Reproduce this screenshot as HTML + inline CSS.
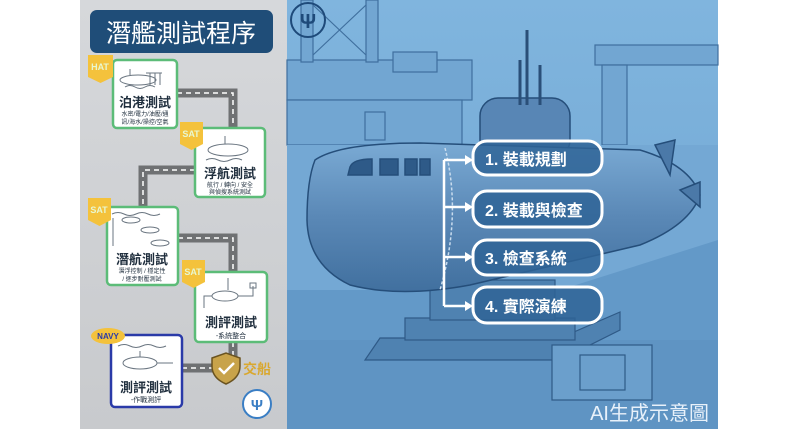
<!DOCTYPE html>
<html><head><meta charset="utf-8"><style>
html,body{margin:0;padding:0;background:#fff;}
svg{display:block;}
text{font-family:"Liberation Sans","Noto Sans CJK TC",sans-serif;}
</style></head><body>
<svg width="800" height="429" viewBox="0 0 800 429" xmlns="http://www.w3.org/2000/svg">
<defs>
<linearGradient id="lp" x1="0" y1="0" x2="0" y2="1"><stop offset="0" stop-color="#d6d8db"/><stop offset="1" stop-color="#c8cacd"/></linearGradient>
<linearGradient id="sky" x1="0" y1="0" x2="0" y2="1"><stop offset="0" stop-color="#80b5de"/><stop offset="1" stop-color="#6ea3d0"/></linearGradient>
<linearGradient id="hull" x1="0" y1="0" x2="0" y2="1"><stop offset="0" stop-color="#7aaad4"/><stop offset="0.5" stop-color="#5a88b6"/><stop offset="1" stop-color="#41709f"/></linearGradient>
</defs>
<rect width="800" height="429" fill="#fff"/>
<!-- left panel -->
<rect x="80" y="0" width="207" height="429" fill="url(#lp)"/>
<rect x="90" y="10" width="183" height="43" rx="7" fill="#1f4d78"/>
<text x="181" y="42" font-size="25" fill="#fff" text-anchor="middle">潛艦測試程序</text>
<g fill="none" stroke="#6f7173" stroke-width="9">
<path d="M177 93 H233 V128"/>
<path d="M195 170 H143 V207"/>
<path d="M178 238 H233 V272"/>
<path d="M233 342 V368 H182"/>
</g>
<g fill="none" stroke="#fff" stroke-width="1.5" stroke-dasharray="5 4">
<path d="M177 93 H233 V128"/>
<path d="M195 170 H143 V207"/>
<path d="M178 238 H233 V272"/>
<path d="M233 342 V368 H182"/>
</g>
<g fill="#fff" stroke="#5cbc78" stroke-width="2.5">
<rect x="113" y="60" width="64" height="68" rx="4"/>
<rect x="195" y="128" width="70" height="69" rx="4"/>
<rect x="107" y="207" width="71" height="78" rx="4"/>
<rect x="195" y="272" width="72" height="70" rx="4"/>
</g>
<rect x="111" y="335" width="71" height="72" rx="4" fill="#fff" stroke="#2a3aa8" stroke-width="2.5"/>
<g fill="none" stroke="#6a7580" stroke-width="1">
<ellipse cx="138" cy="80" rx="18" ry="5"/><path d="M150 73 v12 M155 73 v12 M160 73 v12 M146 73 h16 M130 75 v-6 M125 87 q5 -3 10 0 q5 3 10 0 q5-3 10 0"/>
<ellipse cx="228" cy="150" rx="20" ry="6"/><path d="M225 144 v-8 M206 160 q6-3 12 0 q6 3 12 0 q6-3 12 0"/>
<path d="M112 214 q6-3 12 0 q6 3 12 0 q6-3 12 0 q6 3 12 0 M113 218 v28"/>
<ellipse cx="131" cy="220" rx="9" ry="3"/><ellipse cx="150" cy="230" rx="9" ry="3"/><ellipse cx="160" cy="243" rx="9" ry="3"/>
<ellipse cx="225" cy="296" rx="13" ry="5"/><path d="M228 290 v-12 M238 296 h15 v-10 M212 296 h-8 v12"/><rect x="250" y="283" width="6" height="5"/>
<ellipse cx="140" cy="363" rx="17" ry="6"/><path d="M118 346 q6-3 12 0 q6 3 12 0 q6-3 12 0 q6 3 12 0 M140 357 v-6 M157 363 h16"/>
</g>
<g text-anchor="middle" fill="#1f2e3d">
<text x="145" y="107" font-size="13" font-weight="bold">泊港測試</text>
<text x="145" y="116" font-size="6">水密/電力/油壓/通</text>
<text x="145" y="124" font-size="6">訊/海水/操控/空氣</text>
<text x="230" y="178" font-size="13" font-weight="bold">浮航測試</text>
<text x="230" y="187" font-size="6">航行 / 轉向 / 安全</text>
<text x="230" y="194" font-size="6">與偵搜系統測試</text>
<text x="142" y="264" font-size="13" font-weight="bold">潛航測試</text>
<text x="142" y="273" font-size="6">潛浮控制 / 穩定性</text>
<text x="142" y="281" font-size="6">/ 逐步耐壓測試</text>
<text x="231" y="327" font-size="13" font-weight="bold">測評測試</text>
<text x="231" y="338" font-size="7">-系統整合</text>
<text x="146" y="392" font-size="13" font-weight="bold">測評測試</text>
<text x="146" y="402" font-size="7">-作戰測評</text>
</g>
<g fill="#f4c23c">
<path d="M88 55 h25 v22 l-12.5 6 l-12.5 -6z"/>
<path d="M180 122 h23 v22 l-11.5 6 l-11.5 -6z"/>
<path d="M88 198 h23 v22 l-11.5 6 l-11.5 -6z"/>
<path d="M182 260 h23 v22 l-11.5 6 l-11.5 -6z"/>
<ellipse cx="108" cy="336" rx="17" ry="8"/>
</g>
<g font-size="9" font-weight="bold" fill="#e8f7d0" text-anchor="middle">
<text x="100" y="70">HAT</text><text x="191" y="137">SAT</text><text x="99" y="213">SAT</text><text x="193" y="275">SAT</text>
</g>
<text x="108" y="339" font-size="8" font-weight="bold" fill="#2a3aa8" text-anchor="middle">NAVY</text>
<path d="M212 358 l14 -5 l14 5 v8 q0 12 -14 18 q-14 -6 -14 -18z" fill="#c8a34a" stroke="#6a5320" stroke-width="1.5"/>
<path d="M219 368 l5 5 l10 -10" fill="none" stroke="#fff" stroke-width="2.5"/>
<text x="243" y="374" font-size="14" font-weight="bold" fill="#d9a830">交船</text>
<circle cx="257" cy="404" r="14" fill="#fff" stroke="#3a7ec4" stroke-width="2"/>
<text x="257" y="410" font-size="15" fill="#3a7ec4" text-anchor="middle" font-weight="bold">Ψ</text>
<!-- right panel -->
<rect x="287" y="0" width="431" height="429" fill="url(#sky)"/>
<g fill="#72a6d2" stroke="#3f6f9e" stroke-width="1.2">
<rect x="287" y="60" width="185" height="40"/>
<rect x="287" y="100" width="175" height="45"/>
<rect x="301" y="0" width="12" height="62"/><rect x="366" y="0" width="12" height="62"/>
<path d="M313 5 L366 55 M366 5 L313 55" fill="none"/>
<rect x="393" y="52" width="44" height="20"/>
<rect x="365" y="112" width="20" height="28"/>
<rect x="595" y="45" width="123" height="20"/><rect x="602" y="65" width="25" height="80"/>
</g>
<path d="M287 145 H718 V250 L560 300 H287Z" fill="#74a8d4"/>
<path d="M287 290 L560 290 L718 240 L718 429 L287 429 Z" fill="#6399c8"/>
<rect x="287" y="340" width="431" height="89" fill="#5f94c3"/>
<g fill="#4f82b1" stroke="#2f5a87" stroke-width="1.2">
<path d="M365 360 L560 360 L620 330 L620 312 L560 338 L380 338 Z"/>
<rect x="405" y="318" width="170" height="22"/>
<rect x="430" y="280" width="125" height="40"/>
</g>
<g stroke="#254e7a" stroke-width="1.5">
<rect x="480" y="98" width="90" height="60" rx="18" fill="#5886b5"/>
<path d="M527 30 v75 M520 60 v45 M540 65 v40" stroke="#2a4f78" stroke-width="3"/>
<path d="M315 160 Q340 143 420 143 L640 150 Q690 165 700 195 Q690 225 640 245 L470 285 Q400 298 350 285 Q308 265 307 220 Q307 180 315 160 Z" fill="url(#hull)"/>
<path d="M655 145 l20 -5 l-5 35z M680 190 l20 -8 v25z" fill="#4b79a8"/>
<path d="M350 167 q3 -8 22 -8 v16 h-24z M380 159 h18 v16 h-18z M405 159 h12 v16 h-12z M420 159 h10 v16 h-10z" fill="#2e5a88"/>
<path d="M445 148 Q462 215 440 290" fill="none" stroke-dasharray="3 2" stroke="#c9dcee"/>
</g>
<g fill="#6b9fcc" stroke="#2f5a87" stroke-width="1.2">
<rect x="552" y="345" width="100" height="55"/>
<rect x="580" y="355" width="45" height="35"/>
</g>
<g stroke="#fff" stroke-width="2.5" fill="#fff">
<path d="M444 160 V306" fill="none"/>
<path d="M444 160 H466 M444 207 H466 M444 257 H466 M444 306 H466" fill="none"/>
<path d="M473 160 l-8 -5 v10z M473 207 l-8 -5 v10z M473 257 l-8 -5 v10z M473 306 l-8 -5 v10z" stroke="none"/>
</g>
<g fill="#2f6496" fill-opacity="0.85" stroke="#fff" stroke-width="3">
<rect x="473" y="141" width="129" height="34" rx="14"/>
<rect x="473" y="191" width="129" height="36" rx="14"/>
<rect x="473" y="240" width="129" height="35" rx="14"/>
<rect x="473" y="287" width="129" height="36" rx="14"/>
</g>
<g fill="#fff" font-size="16" font-weight="bold">
<text x="485" y="165">1. 裝載規劃</text>
<text x="485" y="216">2. 裝載與檢查</text>
<text x="485" y="264">3. 檢查系統</text>
<text x="485" y="312">4. 實際演練</text>
</g>
<circle cx="308" cy="20" r="17" fill="none" stroke="#1e4a7a" stroke-width="2"/>
<text x="308" y="28" font-size="20" fill="#1e4a7a" text-anchor="middle" font-weight="bold">Ψ</text>
<text x="709" y="420" font-size="20" fill="#e8f1fa" text-anchor="end">AI生成示意圖</text>
</svg>
</body></html>
